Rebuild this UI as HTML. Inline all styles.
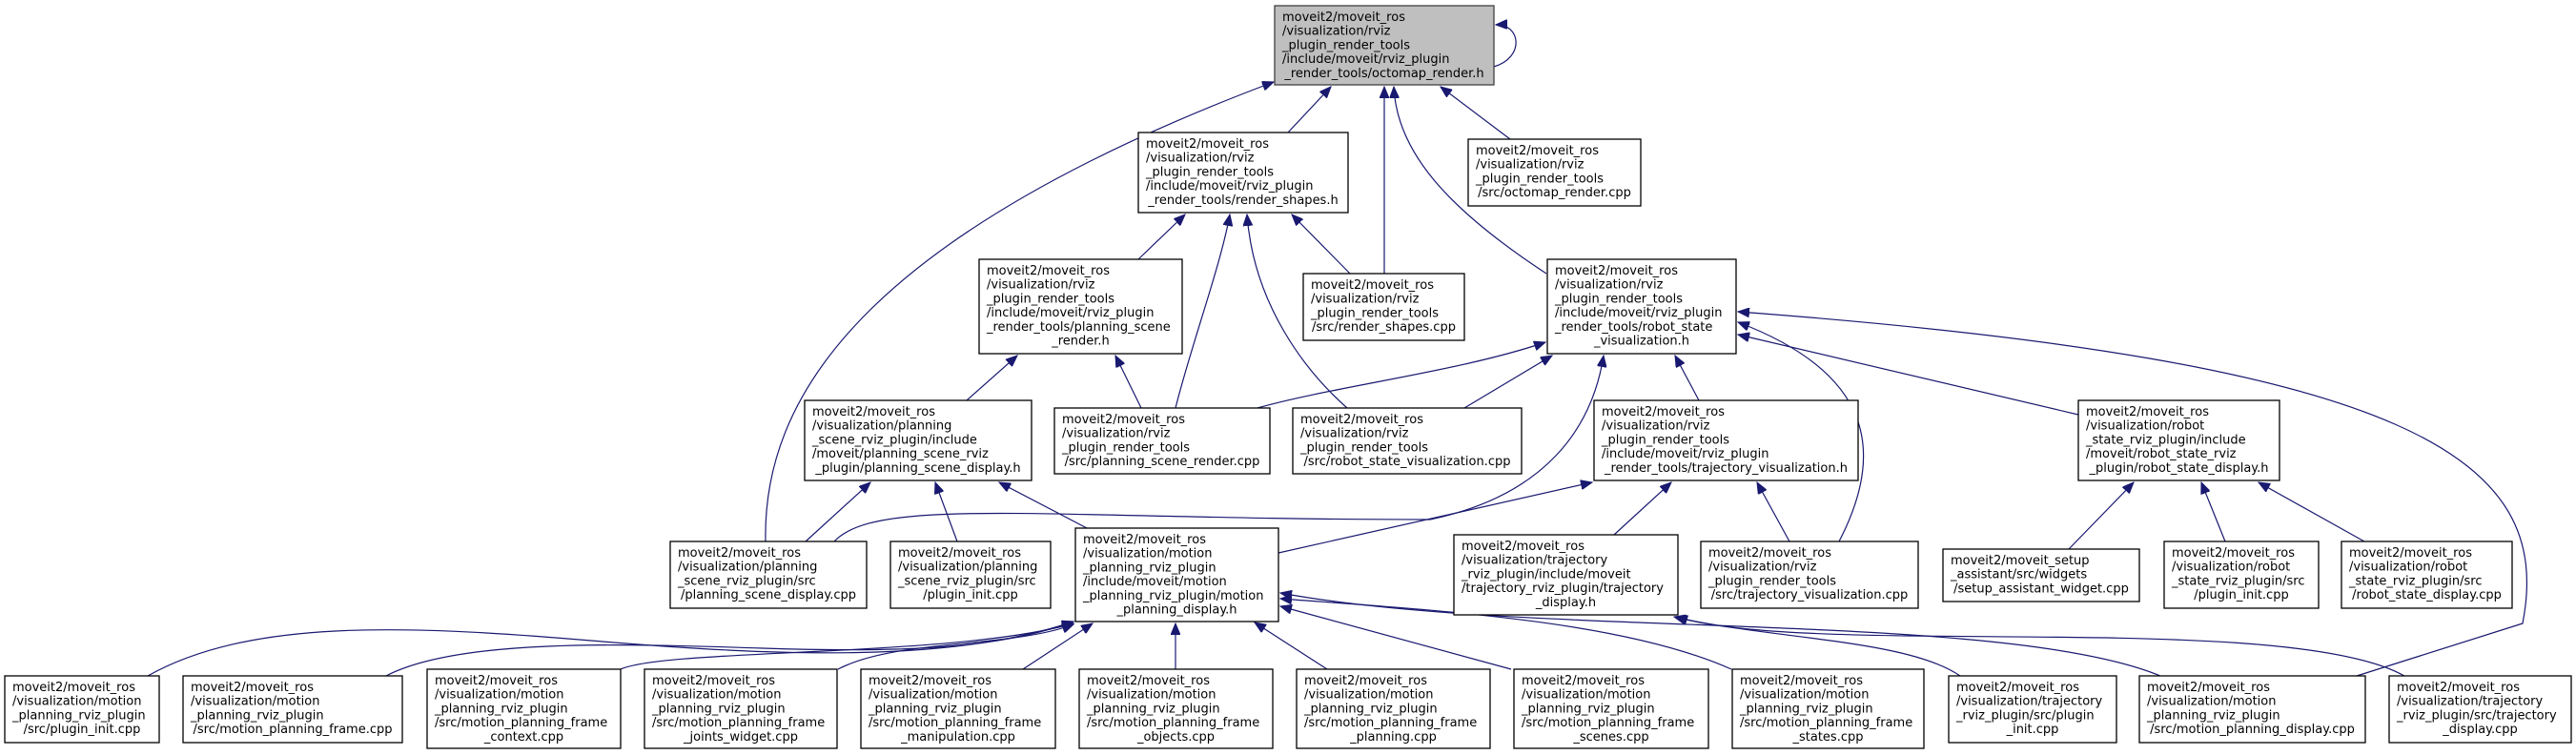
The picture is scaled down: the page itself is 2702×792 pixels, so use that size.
<!DOCTYPE html>
<html><head><meta charset="utf-8"><style>
html,body{margin:0;padding:0;background:#fff;}
svg{display:block;}
text{font-family:"DejaVu Sans","Liberation Sans",sans-serif;font-size:13px;fill:#000;}
.n{fill:#fff;stroke:#000;stroke-width:1.3;}
.r{fill:#bfbfbf;stroke:#404040;stroke-width:1.3;}
.e{fill:none;stroke:#191970;stroke-width:1.2;}
</style></head><body>
<svg id="s" width="2702" height="792" viewBox="0 0 2702 792" xmlns="http://www.w3.org/2000/svg">
<defs>
<marker id="a" markerUnits="userSpaceOnUse" markerWidth="14" markerHeight="10" refX="12" refY="5" orient="auto">
<path d="M0,0 L12,5 L0,10 Z" fill="#191970" stroke="#191970"/>
</marker>
</defs>
<g id="edges">
<path class="e" marker-end="url(#a)" d="M803,568 C800,420 900,250 1336,86"/>
<path class="e" marker-end="url(#a)" d="M1351,139 L1396,91"/>
<path class="e" marker-end="url(#a)" d="M1452,287 L1452,91"/>
<path class="e" marker-end="url(#a)" d="M1622,287 C1520,220 1465,160 1462,91"/>
<path class="e" marker-end="url(#a)" d="M1584,146 L1511,91"/>
<path class="e" marker-end="url(#a)" d="M1567,70 C1600,60 1595,25 1569,26"/>
<path class="e" marker-end="url(#a)" d="M1194,272 L1243,225"/>
<path class="e" marker-end="url(#a)" d="M1233,428 C1250,360 1280,280 1290,225"/>
<path class="e" marker-end="url(#a)" d="M1413,428 C1370,390 1315,320 1308,225"/>
<path class="e" marker-end="url(#a)" d="M1416,287 L1355,225"/>
<path class="e" marker-end="url(#a)" d="M1014,420 L1067,373"/>
<path class="e" marker-end="url(#a)" d="M1197,428 L1170,373"/>
<path class="e" marker-end="url(#a)" d="M845,568 L913,506"/>
<path class="e" marker-end="url(#a)" d="M1004,568 L981,506"/>
<path class="e" marker-end="url(#a)" d="M1140,554 L1048,506"/>
<path class="e" marker-end="url(#a)" d="M1319,428 C1400,405 1530,390 1621,359"/>
<path class="e" marker-end="url(#a)" d="M1536,428 L1628,373"/>
<path class="e" marker-end="url(#a)" d="M1782,420 L1757,373"/>
<path class="e" marker-end="url(#a)" d="M1929,568 C1980,470 1960,390 1823,338"/>
<path class="e" marker-end="url(#a)" d="M2180,435 L1823,351"/>
<path class="e" marker-end="url(#a)" d="M2472,709 L2646,654 C2680,480 2530,380 1823,327"/>
<path class="e" marker-end="url(#a)" d="M875,568 C920,520 1100,545 1500,545 C1620,520 1670,450 1682,373"/>
<path class="e" marker-end="url(#a)" d="M1693,561 L1753,506"/>
<path class="e" marker-end="url(#a)" d="M1877,568 L1843,506"/>
<path class="e" marker-end="url(#a)" d="M1341,580 L1670,506"/>
<path class="e" marker-end="url(#a)" d="M155,709 C260,650 420,655 620,672 S1000,695 1126,652"/>
<path class="e" marker-end="url(#a)" d="M405,709 C480,670 650,675 800,680 S1050,680 1126,652"/>
<path class="e" marker-end="url(#a)" d="M651,702 C700,680 1000,690 1126,654"/>
<path class="e" marker-end="url(#a)" d="M879,702 C940,670 1060,680 1126,655"/>
<path class="e" marker-end="url(#a)" d="M1073,702 L1146,654"/>
<path class="e" marker-end="url(#a)" d="M1233,702 L1233,654"/>
<path class="e" marker-end="url(#a)" d="M1392,702 L1316,653"/>
<path class="e" marker-end="url(#a)" d="M1585,702 L1343,636"/>
<path class="e" marker-end="url(#a)" d="M1816,702 C1700,650 1500,640 1343,628"/>
<path class="e" marker-end="url(#a)" d="M2266,709 C2100,640 1600,670 1343,622"/>
<path class="e" marker-end="url(#a)" d="M2056,709 C2000,670 1850,670 1756,647"/>
<path class="e" marker-end="url(#a)" d="M2522,709 C2400,640 1900,690 1758,647"/>
<path class="e" marker-end="url(#a)" d="M2170,576 L2238,506"/>
<path class="e" marker-end="url(#a)" d="M2334,568 L2309,506"/>
<path class="e" marker-end="url(#a)" d="M2480,568 L2369,506"/>
</g>
<g id="nodes"></g>
</svg>
<script>
var N=[
[1337,6,1567,89,1,["moveit2/moveit_ros","/visualization/rviz","_plugin_render_tools","/include/moveit/rviz_plugin","_render_tools/octomap_render.h"]],
[1194,139,1414,223,0,["moveit2/moveit_ros","/visualization/rviz","_plugin_render_tools","/include/moveit/rviz_plugin","_render_tools/render_shapes.h"]],
[1027,272,1240,371,0,["moveit2/moveit_ros","/visualization/rviz","_plugin_render_tools","/include/moveit/rviz_plugin","_render_tools/planning_scene","_render.h"]],
[1540,146,1721,216,0,["moveit2/moveit_ros","/visualization/rviz","_plugin_render_tools","/src/octomap_render.cpp"]],
[1367,287,1536,357,0,["moveit2/moveit_ros","/visualization/rviz","_plugin_render_tools","/src/render_shapes.cpp"]],
[1623,272,1821,371,0,["moveit2/moveit_ros","/visualization/rviz","_plugin_render_tools","/include/moveit/rviz_plugin","_render_tools/robot_state","_visualization.h"]],
[844,420,1082,504,0,["moveit2/moveit_ros","/visualization/planning","_scene_rviz_plugin/include","/moveit/planning_scene_rviz","_plugin/planning_scene_display.h"]],
[1106,428,1332,497,0,["moveit2/moveit_ros","/visualization/rviz","_plugin_render_tools","/src/planning_scene_render.cpp"]],
[1356,428,1596,497,0,["moveit2/moveit_ros","/visualization/rviz","_plugin_render_tools","/src/robot_state_visualization.cpp"]],
[1672,420,1949,504,0,["moveit2/moveit_ros","/visualization/rviz","_plugin_render_tools","/include/moveit/rviz_plugin","_render_tools/trajectory_visualization.h"]],
[2180,420,2391,504,0,["moveit2/moveit_ros","/visualization/robot","_state_rviz_plugin/include","/moveit/robot_state_rviz","_plugin/robot_state_display.h"]],
[703,568,909,638,0,["moveit2/moveit_ros","/visualization/planning","_scene_rviz_plugin/src","/planning_scene_display.cpp"]],
[934,568,1102,638,0,["moveit2/moveit_ros","/visualization/planning","_scene_rviz_plugin/src","/plugin_init.cpp"]],
[1128,554,1341,652,0,["moveit2/moveit_ros","/visualization/motion","_planning_rviz_plugin","/include/moveit/motion","_planning_rviz_plugin/motion","_planning_display.h"]],
[1525,561,1760,645,0,["moveit2/moveit_ros","/visualization/trajectory","_rviz_plugin/include/moveit","/trajectory_rviz_plugin/trajectory","_display.h"]],
[1784,568,2012,638,0,["moveit2/moveit_ros","/visualization/rviz","_plugin_render_tools","/src/trajectory_visualization.cpp"]],
[2038,576,2244,631,0,["moveit2/moveit_setup","_assistant/src/widgets","/setup_assistant_widget.cpp"]],
[2270,568,2432,638,0,["moveit2/moveit_ros","/visualization/robot","_state_rviz_plugin/src","/plugin_init.cpp"]],
[2456,568,2635,638,0,["moveit2/moveit_ros","/visualization/robot","_state_rviz_plugin/src","/robot_state_display.cpp"]],
[5,709,167,779,0,["moveit2/moveit_ros","/visualization/motion","_planning_rviz_plugin","/src/plugin_init.cpp"]],
[192,709,422,779,0,["moveit2/moveit_ros","/visualization/motion","_planning_rviz_plugin","/src/motion_planning_frame.cpp"]],
[448,702,651,785,0,["moveit2/moveit_ros","/visualization/motion","_planning_rviz_plugin","/src/motion_planning_frame","_context.cpp"]],
[676,702,878,785,0,["moveit2/moveit_ros","/visualization/motion","_planning_rviz_plugin","/src/motion_planning_frame","_joints_widget.cpp"]],
[903,702,1107,785,0,["moveit2/moveit_ros","/visualization/motion","_planning_rviz_plugin","/src/motion_planning_frame","_manipulation.cpp"]],
[1132,702,1335,785,0,["moveit2/moveit_ros","/visualization/motion","_planning_rviz_plugin","/src/motion_planning_frame","_objects.cpp"]],
[1360,702,1563,785,0,["moveit2/moveit_ros","/visualization/motion","_planning_rviz_plugin","/src/motion_planning_frame","_planning.cpp"]],
[1588,702,1792,785,0,["moveit2/moveit_ros","/visualization/motion","_planning_rviz_plugin","/src/motion_planning_frame","_scenes.cpp"]],
[1817,702,2018,785,0,["moveit2/moveit_ros","/visualization/motion","_planning_rviz_plugin","/src/motion_planning_frame","_states.cpp"]],
[2044,709,2220,779,0,["moveit2/moveit_ros","/visualization/trajectory","_rviz_plugin/src/plugin","_init.cpp"]],
[2244,709,2481,779,0,["moveit2/moveit_ros","/visualization/motion","_planning_rviz_plugin","/src/motion_planning_display.cpp"]],
[2506,709,2697,779,0,["moveit2/moveit_ros","/visualization/trajectory","_rviz_plugin/src/trajectory","_display.cpp"]]
];
var g=document.getElementById("nodes"),ns="http://www.w3.org/2000/svg";
N.forEach(function(n){
 var r=document.createElementNS(ns,"rect");
 r.setAttribute("x",n[0]);r.setAttribute("y",n[1]);
 r.setAttribute("width",n[2]-n[0]);r.setAttribute("height",n[3]-n[1]);
 r.setAttribute("class",n[4]?"r":"n");g.appendChild(r);
 var L=n[5];
 L.forEach(function(s,i){
  var t=document.createElementNS(ns,"text");
  var last=(i==L.length-1);
  t.setAttribute("x",last?(n[0]+n[2])/2:n[0]+8);
  t.setAttribute("y",n[1]+16+i*14.7);
  if(last)t.setAttribute("text-anchor","middle");
  t.textContent=s;g.appendChild(t);
 });
});
</script>
</body></html>
